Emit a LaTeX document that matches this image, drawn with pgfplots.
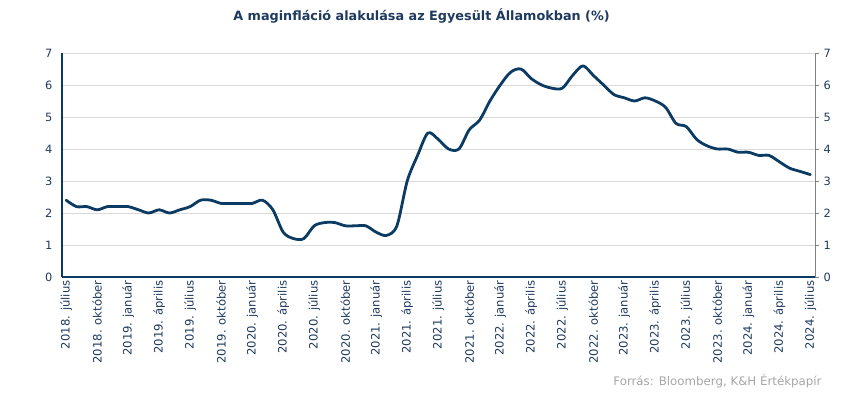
\documentclass[border=0pt]{standalone}
\usepackage{fontspec}
\setmainfont{DejaVu Sans}
\usepackage{pgfplots}
\pgfplotsset{compat=1.18}
\definecolor{navy}{HTML}{0B3A63}
\definecolor{txt}{HTML}{1F3A5F}
\definecolor{gridc}{HTML}{D9D9D9}
\definecolor{src}{HTML}{A6A6A6}
\pgfplotstableread{
i v
0 2.4
1 2.2
2 2.2
3 2.1
4 2.2
5 2.2
6 2.2
7 2.1
8 2.0
9 2.1
10 2.0
11 2.1
12 2.2
13 2.4
14 2.4
15 2.3
16 2.3
17 2.3
18 2.3
19 2.4
20 2.1
21 1.4
22 1.2
23 1.2
24 1.6
25 1.7
26 1.7
27 1.6
28 1.6
29 1.6
30 1.4
31 1.3
32 1.6
33 3.0
34 3.8
35 4.5
36 4.3
37 4.0
38 4.0
39 4.6
40 4.9
41 5.5
42 6.0
43 6.4
44 6.5
45 6.2
46 6.0
47 5.9
48 5.9
49 6.3
50 6.6
51 6.3
52 6.0
53 5.7
54 5.6
55 5.5
56 5.6
57 5.5
58 5.3
59 4.8
60 4.7
61 4.3
62 4.1
63 4.0
64 4.0
65 3.9
66 3.9
67 3.8
68 3.8
69 3.6
70 3.4
71 3.3
72 3.2
}\datatable
\begin{document}
\begin{tikzpicture}[x=1pt,y=1pt]
\useasboundingbox (-62,-116) rectangle (788,277);
\begin{axis}[
  at={(0,0)}, anchor=south west,
  scale only axis, width=753pt, height=224pt,
  xmin=-0.4, xmax=72.45, ymin=0, ymax=7,
  xtick={0,3,...,72},
  xticklabels={2018. július,2018. október,2019. január,2019. április,2019. július,2019. október,2020. január,2020. április,2020. július,2020. október,2021. január,2021. április,2021. július,2021. október,2022. január,2022. április,2022. július,2022. október,2023. január,2023. április,2023. július,2023. október,2024. január,2024. április,2024. július},
  xticklabel style={rotate=90, anchor=east, font=\fontsize{11.6}{13}\selectfont, text=txt, yshift=0pt},
  ytick={0,...,7},
  yticklabel style={font=\fontsize{11.4}{13}\selectfont, text=txt, xshift=-6pt},
  /pgf/number format/assume math mode=true,
  ymajorgrids, grid style={gridc, line width=0.8pt},
  axis x line*=bottom, axis y line*=left,
  axis line style={navy, line width=1.2pt, -},
  xtick style={draw=none}, ytick style={draw=none},
  title={A maginfláció alakulása az Egyesült Államokban (\%)},
  title style={font=\bfseries\fontsize{12.8}{15}\selectfont, text=txt, at={(0.5,1)}, anchor=center, yshift=31pt, xshift=-17pt},
  clip=false,
]
\addplot[navy, line width=2.8pt, smooth, tension=0.5, line join=round, line cap=round] table[x=i, y=v] {\datatable};
\end{axis}
\begin{axis}[
  at={(0,0)}, anchor=south west,
  scale only axis, width=753pt, height=224pt,
  xmin=-0.4, xmax=72.45, ymin=0, ymax=7,
  axis x line=none, axis y line*=right,
  ytick={0,...,7},
  yticklabel style={font=\fontsize{11.4}{13}\selectfont, text=txt, xshift=1pt},
  /pgf/number format/assume math mode=true,
  axis line style={gray, line width=0.8pt, -},
  ytick style={gray, line width=0.8pt}, tick align=outside, major tick length=4pt,
]
\end{axis}
\node[anchor=east, text=src, font=\fontsize{11.8}{13}\selectfont] at (763,-104) {Forrás: Bloomberg, K\&H Értékpapír};
\end{tikzpicture}
\end{document}
